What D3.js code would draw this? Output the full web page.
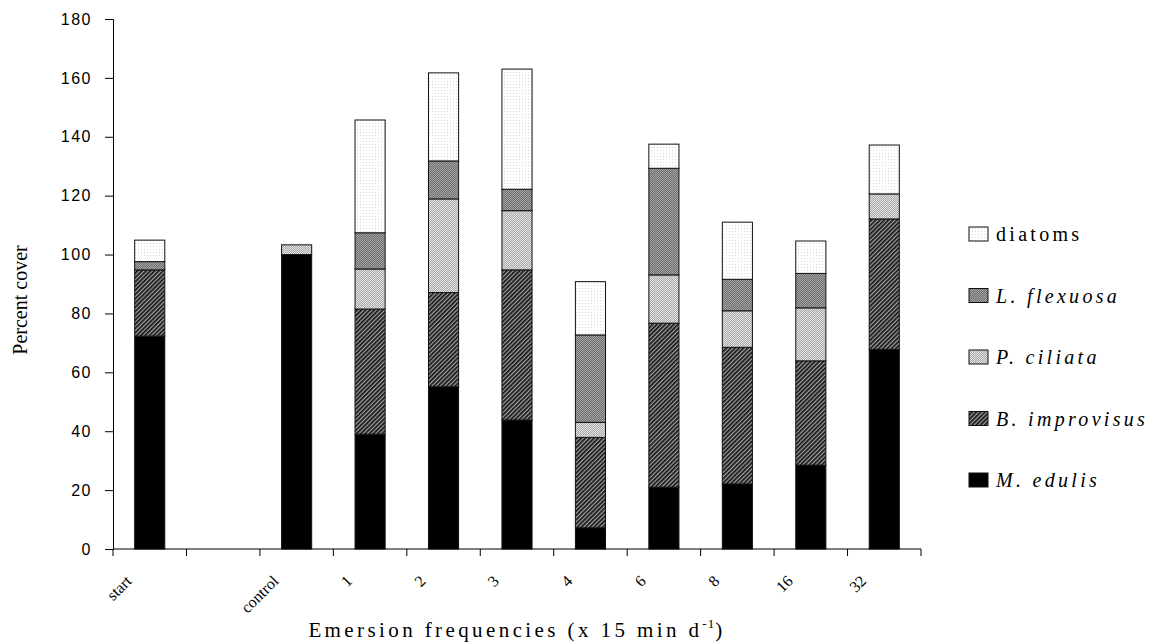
<!DOCTYPE html>
<html>
<head>
<meta charset="utf-8">
<script src="https://cdn.jsdelivr.net/npm/d3@7"></script>
<style>
  body { margin: 0; background: #fff; }
  svg { display: block; }
</style>
</head>
<body>
<svg id="chart" width="1160" height="644"></svg>
<script>
// ---- data ----
const categories = ["start", "", "control", "1", "2", "3", "4", "6", "8", "16", "32"];
const mEdulis     = [72.3, 0, 100, 39.0, 55.1, 43.8, 7.2, 21.0, 22.1, 28.5, 67.8];
const bImprovisus = [22.5, 0, 0, 42.5, 32.0, 51.0, 30.7, 55.7, 46.4, 35.4, 44.3];
const pCiliata    = [0, 0, 3.3, 13.6, 31.8, 20.1, 5.1, 16.4, 12.4, 18.0, 8.5];
const lFlexuosa   = [2.8, 0, 0, 12.3, 12.9, 7.3, 29.7, 36.2, 10.7, 11.7, 0];
const diatoms     = [7.3, 0, 0, 38.3, 29.9, 40.8, 18.1, 8.2, 19.4, 11.0, 16.6];
const seriesKeys   = ["mEdulis", "bImprovisus", "pCiliata", "lFlexuosa", "diatoms"];
const seriesLabels = ["M. edulis", "B. improvisus", "P. ciliata", "L. flexuosa", "diatoms"];
const yTicks = [0, 20, 40, 60, 80, 100, 120, 140, 160, 180];

const table = categories.map((c, i) => ({
  cat: c, mEdulis: mEdulis[i], bImprovisus: bImprovisus[i], pCiliata: pCiliata[i],
  lFlexuosa: lFlexuosa[i], diatoms: diatoms[i]
}));

const svg = d3.select("#chart");
const defs = svg.append("defs");

// patterns
function checker(id, c1, c2) {
  const p = defs.append("pattern").attr("id", id).attr("patternUnits", "userSpaceOnUse")
    .attr("width", 2).attr("height", 2);
  p.append("rect").attr("width", 2).attr("height", 2).attr("fill", c1);
  p.append("rect").attr("width", 1).attr("height", 1).attr("fill", c2);
  p.append("rect").attr("x", 1).attr("y", 1).attr("width", 1).attr("height", 1).attr("fill", c2);
}
checker("patL", "#6e6e6e", "#a4a4a4");
checker("patP", "#a8a8a8", "#e4e4e4");
{
  const p = defs.append("pattern").attr("id", "patD").attr("patternUnits", "userSpaceOnUse")
    .attr("width", 3).attr("height", 3);
  p.append("rect").attr("width", 3).attr("height", 3).attr("fill", "#ffffff");
  p.append("rect").attr("width", 1).attr("height", 1).attr("fill", "#d8d8d8");
}
{
  const p = defs.append("pattern").attr("id", "patB").attr("patternUnits", "userSpaceOnUse")
    .attr("width", 3).attr("height", 3).attr("patternTransform", "rotate(45)");
  p.append("rect").attr("width", 3).attr("height", 3).attr("fill", "#a0a0a0");
  p.append("rect").attr("width", 1.7).attr("height", 3).attr("fill", "#141414");
}
const fills = { mEdulis: "#000", bImprovisus: "url(#patB)", pCiliata: "url(#patP)",
                lFlexuosa: "url(#patL)", diatoms: "url(#patD)" };

// scales
const x = d3.scaleBand().domain(categories).range([113, 921]).padding(0);
const y = d3.scaleLinear().domain([0, 180]).range([549, 19]);
const barW = x.bandwidth() * 0.41;

// bars
const stacked = d3.stack().keys(seriesKeys)(table);
const g = svg.append("g");
stacked.forEach(layer => {
  g.selectAll(null).data(layer.filter(d => d[1] - d[0] > 0)).enter().append("rect")
    .attr("x", d => x(d.data.cat) + (x.bandwidth() - barW) / 2)
    .attr("width", barW)
    .attr("y", d => y(d[1]))
    .attr("height", d => y(d[0]) - y(d[1]))
    .attr("fill", fills[layer.key])
    .attr("stroke", "#111")
    .attr("stroke-width", 1);
});

// y axis
const yAxis = svg.append("g").attr("transform", "translate(113,0)")
  .call(d3.axisLeft(y).tickValues(yTicks).tickSize(8).tickPadding(13));
yAxis.select(".domain").attr("stroke", "#000");
yAxis.selectAll(".tick line").attr("stroke", "#000");
yAxis.selectAll("text").attr("font-family", "'Liberation Sans', Arial, sans-serif")
  .attr("font-size", 16).attr("letter-spacing", "1.5px").attr("fill", "#000");

// x axis
svg.append("line").attr("x1", x.range()[0]).attr("x2", x.range()[1])
  .attr("y1", y(0)).attr("y2", y(0)).attr("stroke", "#000");
const bounds = categories.map(c => x(c)).concat([x.range()[1]]);
svg.selectAll(null).data(bounds).enter().append("line")
  .attr("x1", d => d).attr("x2", d => d).attr("y1", y(0)).attr("y2", y(0) + 7)
  .attr("stroke", "#000");
svg.selectAll(null).data(categories).enter().append("text")
  .attr("transform", d => `translate(${x(d) + x.bandwidth() / 2 - 17},${y(0) + 33}) rotate(-45)`)
  .attr("text-anchor", "end")
  .attr("font-family", "'Liberation Serif', 'Times New Roman', serif")
  .attr("font-size", 16)
  .text(d => d);

// axis titles
svg.append("text").attr("transform", "translate(27,300) rotate(-90)")
  .attr("text-anchor", "middle")
  .attr("font-family", "'Liberation Serif', 'Times New Roman', serif")
  .attr("font-size", 20).text("Percent cover");

const xt = svg.append("text").attr("x", (x.range()[0] + x.range()[1]) / 2).attr("y", 637)
  .attr("text-anchor", "middle")
  .attr("font-family", "'Liberation Serif', 'Times New Roman', serif")
  .attr("font-size", 21).attr("letter-spacing", "3.4px");
xt.append("tspan").text("Emersion frequencies (x 15 min d");
xt.append("tspan").attr("font-size", 13).attr("dy", -9).attr("letter-spacing", "1px").text("-1");
xt.append("tspan").attr("dy", 9).text(")");

// legend (top to bottom: diatoms ... M. edulis)
const legendOrder = seriesKeys.slice().reverse();
const legendLabel = seriesLabels.slice().reverse();
const lg = svg.append("g");
legendOrder.forEach((k, i) => {
  const cy = 234 + i * 61.5;
  lg.append("rect").attr("x", 969).attr("y", cy - 7).attr("width", 19).attr("height", 14)
    .attr("fill", fills[k]).attr("stroke", "#111").attr("stroke-width", 1);
  lg.append("text").attr("x", 996).attr("y", cy + 7)
    .attr("font-family", "'Liberation Serif', 'Times New Roman', serif")
    .attr("font-size", 20).attr("letter-spacing", "3.3px")
    .attr("font-style", k === "diatoms" ? "normal" : "italic")
    .text(legendLabel[i]);
});
</script>
</body>
</html>
